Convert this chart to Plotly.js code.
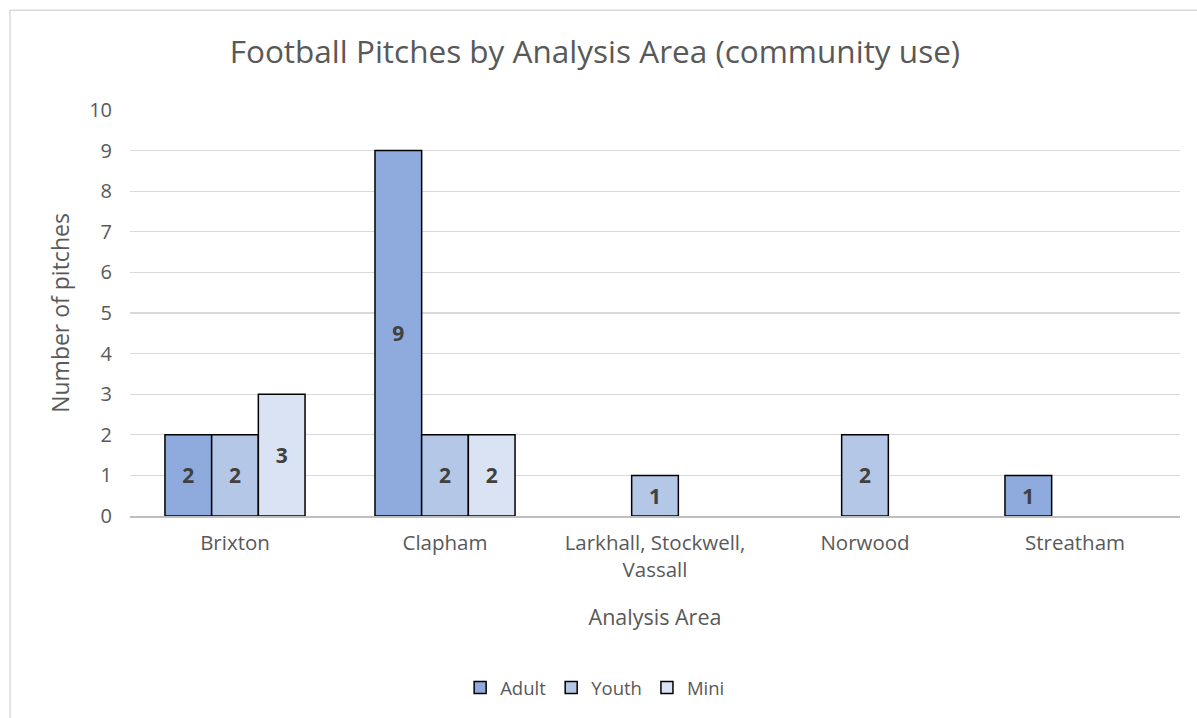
<!DOCTYPE html>
<html><head><meta charset="utf-8">
<script src="https://cdn.plot.ly/plotly-3.0.1.min.js"></script>
<style>html,body{margin:0;padding:0;background:#fff}#chart{width:1197px;height:718px}</style>
</head><body><div id="chart"></div>
<script>
const categories = ["Brixton", "Clapham", "Larkhall, Stockwell,<br>Vassall", "Norwood", "Streatham"];
const adult = [2, 9, null, null, 1];
const youth = [2, 2, 1, 2, null];
const mini = [3, 2, null, null, null];
const seriesNames = ["Adult", "Youth", "Mini"];
const colors = ["#8FAADC", "#B4C7E7", "#DAE3F3"];
const FONT = "'Open Sans', sans-serif";

const traces = [adult, youth, mini].map((vals, i) => ({
  type: "bar", x: categories, y: vals, name: seriesNames[i],
  marker: {color: colors[i], line: {color: "#000", width: 1.5}},
  text: vals.map(v => v == null ? "" : String(v)),
  textposition: "inside", insidetextanchor: "middle", textangle: 0,
  textfont: {family: FONT, size: 21, color: "#404040", weight: "bold"},
  hoverinfo: "x+y"
}));

const layout = {
  width: 1197, height: 718,
  margin: {l: 130, r: 17, t: 110, b: 201},
  paper_bgcolor: "#fff", plot_bgcolor: "#fff",
  font: {family: FONT, color: "#595959"},
  barmode: "group", bargap: 0.333, bargroupgap: 0,
  title: {text: "Football Pitches by Analysis Area (community use)", font: {family: FONT, size: 31.5, color: "#595959"}, x: 0.497, xanchor: "center", y: 0.927, yanchor: "middle"},
  xaxis: {
    title: {text: "Analysis Area", font: {family: FONT, size: 21.5, color: "#595959"}, standoff: 28},
    tickfont: {family: FONT, size: 20.5, color: "#595959"}, ticklabelstandoff: 8,
    showline: true, linecolor: "#BFBFBF", linewidth: 1.5, ticks: "", showgrid: false, zeroline: false
  },
  yaxis: {
    title: {text: "Number of pitches", font: {family: FONT, size: 23, color: "#595959"}, standoff: 13},
    range: [0, 10], dtick: 1, tickfont: {family: FONT, size: 20, color: "#595959"}, ticklabelstandoff: 17,
    showgrid: true, gridcolor: "#D9D9D9", gridwidth: 1.3, zeroline: false, ticks: "",
    showline: false
  },
  showlegend: true,
  legend: {orientation: "h", x: 0.443, xanchor: "center", y: -0.42, yanchor: "middle",
           font: {family: FONT, size: 18.5, color: "#595959"}, itemwidth: 30, traceorder: "normal"},
  shapes: [{type: "rect", xref: "paper", yref: "paper", x0: -0.1143, x1: 1.2, y0: 1.2457, y1: -0.6,
            line: {color: "#D9D9D9", width: 1.5}, layer: "below", fillcolor: "rgba(0,0,0,0)"}]
};
Plotly.newPlot("chart", traces, layout, {displayModeBar: false, staticPlot: true});
</script></body></html>
